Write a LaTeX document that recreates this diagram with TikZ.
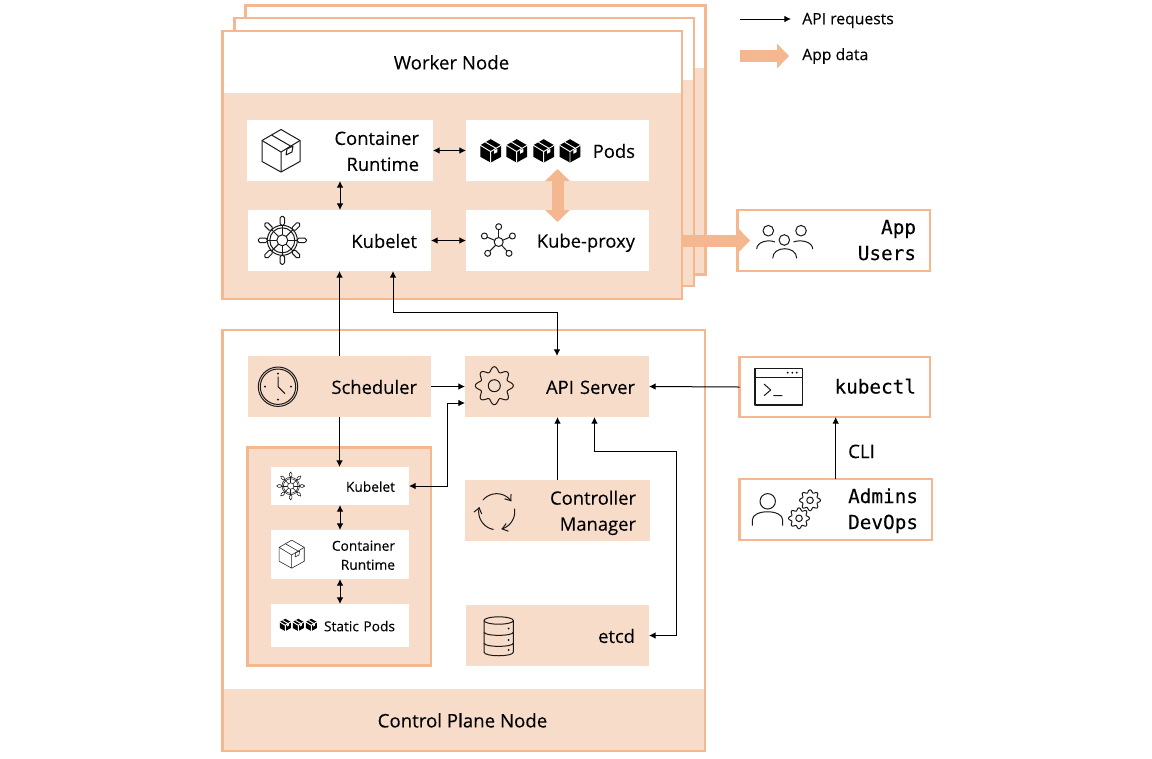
\documentclass[tikz,border=0pt]{standalone}
\usepackage{fontspec}
\setmainfont{Open Sans}[FakeBold=0.15]
\newfontfamily\monof{DejaVu Sans Mono}[FakeBold=0.1]
\usetikzlibrary{arrows.meta}
\definecolor{peach}{HTML}{F8DCCA}
\definecolor{edge}{HTML}{F4B78F}
\tikzset{
  x=.75pt,y=-.75pt,
  size/.style 2 args={minimum width=#1*.75pt,minimum height=#2*.75pt,text width=#1*.75pt-21pt},
  pad/.style 2 args={execute at begin node={\rule{0pt}{#1}},execute at end node={\rule[-#2]{0pt}{#2}}},
  base/.style={rectangle,inner xsep=10.5pt,inner ysep=0pt,outer sep=0pt,align=right,font=\fontsize{13.8}{19.5}\selectfont,text=black},
  whitebox/.style={base,fill=white,pad={14pt}{2.9pt}},
  peachbox/.style={base,fill=peach,pad={14pt}{2.9pt}},
  smallbox/.style={base,fill=white,font=\fontsize{10.3}{14.25}\selectfont,pad={11pt}{2.4pt}},
  framebox/.style={base,fill=white,draw=edge,line width=2pt,font=\monof\fontsize{14.5}{19.5}\selectfont,pad={13pt}{3.25pt}},
  bigframe/.style={rectangle,outer sep=0pt,inner sep=0pt,draw=edge,line width=2pt},
  title/.style={font=\fontsize{14}{19.5}\selectfont,text=black,inner sep=0pt},
  legend/.style={title,anchor=west,font=\fontsize{11.8}{14}\selectfont},
  one/.style={line width=.75pt,draw=black,-{Latex[length=5pt,width=5pt]}},
  two/.style={line width=.75pt,draw=black,{Latex[length=5pt,width=5pt]}-{Latex[length=5pt,width=5pt]}},
  bigone/.style={line width=9pt,draw=edge,-{Triangle[length=9pt,width=18pt]}},
  bigtwo/.style={line width=9pt,draw=edge,{Triangle[length=9pt,width=18pt]}-{Triangle[length=9pt,width=18pt]}},
  icon/.style={line width=.75pt,draw=black!90,line join=round},
  thinicon/.style={line width=.4pt,draw=black!90,line join=round},
  boxicon/.pic={
    \draw[pic actions] (0,-21.5)--(-19,-10.5)--(-19,10.5)--(0,21)--(19,10.5)--(19,-10.5)--cycle;
    \draw[pic actions] (-19,-10.5)--(0,1)--(19,-10.5) (0,1)--(0,21) (-9.5,-16)--(9.5,-5);
    \draw[pic actions] (6,-2)--(12,-5)--(11,1)--(5,4)--cycle;
  },
  podicon/.pic={
    \fill[black] (0,-21.5)--(-19,-10.5)--(-19,10.5)--(0,21)--(19,10.5)--(19,-10.5)--cycle;
    \draw[white,line width=.7pt] (-19,-10.5)--(0,1)--(19,-10.5) (0,1)--(0,21) (-9.5,-16)--(9.5,-5);
    \fill[white] (6,-1)--(12,-4)--(12,2)--(6,5)--cycle;
  },
  helmicon/.pic={
    \foreach \a in {0,45,...,315}{
      \draw[pic actions,rotate=\a] (0,0)--(15,0);
      \draw[pic actions,rotate=\a,fill=white,rounded corners=1.2pt] (15,-2.2) rectangle (24,2.2);
    }
    \draw[pic actions] (0,0) circle (15) (0,0) circle (12.5);
    \draw[pic actions,fill=white] (0,0) circle (5.5);
  },
  gearicon/.pic={
    \draw[pic actions] plot[domain=0:360,samples=121,smooth] ({(16.5+2.5*cos(8*\x))*cos(\x)},{(16.5+2.5*cos(8*\x))*sin(\x)}) -- cycle;
    \draw[pic actions] (0,0) circle (6);
  }
}
\begin{document}
\begin{tikzpicture}
\useasboundingbox (0,0) rectangle (1152,758);
% guides
\coordinate (gx393) at (393,0);
\coordinate (gy312) at (0,312);
\coordinate (gx447) at (447.5,0);
\coordinate (gy403) at (0,403);
\coordinate (gx594) at (594.5,0);
\coordinate (gy451) at (0,451);
\coordinate (gx676) at (676,0);
\coordinate (gx836) at (835.7,0);
\coordinate (legA) at (740,19);
\coordinate (legB) at (791,19);
\coordinate (legC) at (740,56);
\coordinate (legD) at (789,56);
% stacked worker frames
\node[bigframe,fill=white,minimum width=459.5*.75pt,minimum height=268.5*.75pt] (back) at (475.5,140) {};
\fill[peach] (247,68) rectangle (704,273);
\node[bigframe,fill=white,minimum width=459.5*.75pt,minimum height=268*.75pt] (mid) at (464.25,152) {};
\fill[peach] (236,80) rectangle (693,285);
\node[bigframe,fill=white,minimum width=459.5*.75pt,minimum height=267.5*.75pt] (worker) at (452.25,164.75) {};
\fill[peach] (223.5,93) rectangle (681,297.5);
\node[title] (wtitle) at (451.5,62.4) {Worker Node};
\node[whitebox,size={186}{61}] (cr) at (340,150.5) {Container\\Runtime};
\node[whitebox,size={183}{61}] (pods) at (557.5,150.5) {Pods};
\node[whitebox,size={183}{61}] (wkub) at (339.5,240.5) {Kubelet};
\node[whitebox,size={183}{61}] (proxy) at (557.5,240.5) {Kube-proxy};
% control plane
\node[bigframe,fill=white,minimum width=482.5*.75pt,minimum height=421*.75pt] (cp) at (463.75,540.5) {};
\fill[peach] (223.5,689) rectangle (704,750);
\node[title] (cptitle) at (462.5,720.4) {Control Plane Node};
\node[peachbox,size={183}{61}] (sched) at (339.5,386.5) {Scheduler};
\node[peachbox,size={184}{61}] (api) at (557,386.5) {API Server};
\node[bigframe,fill=peach,minimum width=183.5*.75pt,minimum height=218*.75pt] (static) at (339.25,556.5) {};
\node[smallbox,size={138}{38}] (skub) at (340,486) {Kubelet};
\node[smallbox,size={138}{49}] (scr) at (340,554.5) {Container\\Runtime};
\node[smallbox,size={138}{43}] (spods) at (340,625.5) {Static Pods};
\node[peachbox,size={185}{61}] (cm) at (557.5,510.5) {Controller\\Manager};
\node[peachbox,size={183}{61}] (etcd) at (557.5,635.5) {etcd};
% outside
\node[framebox,size={192.5}{61}] (users) at (833.75,240.5) {App\\Users};
\node[framebox,size={190.5}{60}] (kubectl) at (834.75,387) {kubectl};
\node[framebox,size={192.5}{61},inner xsep=10.5pt] (admins) at (835.75,509.5) {Admins\\DevOps};
\node[title] (cli) at (861.5,451.4) {CLI};
% connectors
\draw[two] (cr.east) -- (pods.west);
\draw[two] (cr.south) -- (cr.south |- wkub.north);
\draw[two] (wkub.east) -- (proxy.west);
\draw[bigtwo,shorten <=-9pt,shorten >=-9pt] (pods.south) -- (proxy.north);
\draw[bigone,shorten >=-9.4pt] (worker.east |- users.west) -- (users.west);
\draw[one] (sched.north) -- (sched.north |- wkub.south);
\draw[two] (gx393 |- wkub.south) -- (gx393 |- gy312) -- (api.north |- gy312) -- (api.north);
\draw[one] (sched.east) -- (api.west);
\draw[two] (skub.east) -- (gx447 |- skub.east) -- (gx447 |- gy403) -- (api.west |- gy403);
\draw[one] (sched.south) -- (sched.south |- skub.north);
\draw[two] (skub.south) -- (scr.north);
\draw[two] (scr.south) -- (spods.north);
\draw[one] (cm.north) -- (cm.north |- api.south);
\draw[two] (etcd.east) -- (gx676 |- etcd.east) -- (gx676 |- gy451) -- (gx594 |- gy451) -- (gx594 |- api.south);
\draw[one] (kubectl.west) -- (api.east);
\draw[one] (gx836 |- admins.north) -- (gx836 |- kubectl.south);
% legend
\draw[one] (legA) -- (legB);
\node[legend] (legapi) at (802,20.5) {API requests};
\draw[bigone] (legC) -- (legD);
\node[legend] (legdata) at (802,56) {App data};
% icons
\pic[icon] at (281,151) {boxicon};
\pic[thinicon,scale=.66] at (291.7,554.3) {boxicon};
\foreach \x in {490.7,516.7,543.7,570}{\pic[scale=.55] at (\x,151) {podicon};}
\foreach \x in {285.3,298.3,311.3}{\pic[scale=.29] at (\x,625) {podicon};}
\pic[icon] at (282.3,240.3) {helmicon};
\pic[thinicon,scale=.58] at (290.7,486) {helmicon};
\pic[icon] at (494.3,385.7) {gearicon};
\pic[icon,scale=.55] at (810,500.3) {gearicon};
\pic[icon,scale=.55] at (799,518.3) {gearicon};
% hub
\begin{scope}[shift={(498.7,242)}]
\foreach \p in {(0,-15.3),(-14.3,-6),(13.7,-6),(-11,11.3),(10.3,11.3)}{
  \draw[icon] (0,0) -- \p;
  \draw[icon,fill=white] \p circle (3);
}
\draw[icon,fill=white] (0,0) circle (4.5);
\end{scope}
% clock
\begin{scope}[shift={(278,386.7)}]
\draw[icon] (0,0) circle (19.7) (0,0) circle (17.7);
\draw[icon] (0,-10) -- (0,0) -- (7,7);
\foreach \p in {(0,-13),(0,13),(-13,0),(13,0)}{\fill[black] \p circle (1);}
\end{scope}
% refresh
\begin{scope}[shift={(496.7,511.7)}]
\draw[icon,-{Straight Barb[length=4pt,width=6pt]}] plot[domain=-140:-35,samples=25,smooth] ({18*cos(\x)},{18*sin(\x)});
\draw[icon,-{Straight Barb[length=4pt,width=6pt]}] plot[domain=-10:75,samples=25,smooth] ({18*cos(\x)},{18*sin(\x)});
\draw[icon,-{Straight Barb[length=4pt,width=6pt]}] plot[domain=100:195,samples=25,smooth] ({18*cos(\x)},{18*sin(\x)});
\end{scope}
% database
\begin{scope}[shift={(498.7,0)}]
\draw[icon] (-14.7,620.5) -- (-14.7,652) .. controls (-14.7,657) and (14.7,657) .. (14.7,652) -- (14.7,620.5);
\draw[icon] (0,620.5) ellipse (14.7 and 3.7);
\draw[icon] (-14.7,632) .. controls (-14.7,636.5) and (14.7,636.5) .. (14.7,632);
\draw[icon] (-14.7,643) .. controls (-14.7,647.5) and (14.7,647.5) .. (14.7,643);
\foreach \y in {628.5,640,650}{\fill[black] (10,\y) circle (1);}
\end{scope}
% app users
\draw[icon] (768.3,230.7) circle (5.3) (801,230.7) circle (5.3) (784.3,240) circle (5.3);
\draw[icon] (756.7,249) .. controls (756.7,242) and (768,239) .. (775,242);
\draw[icon] (812.7,249) .. controls (812.7,242) and (801,239) .. (793.5,242);
\draw[icon] (772.7,258.3) .. controls (772.7,245.5) and (796.7,245.5) .. (796.7,258.3);
% admin person
\draw[icon] (767.7,501.3) circle (7.7);
\draw[icon] (752.3,525.7) -- (752.3,520) .. controls (752.3,509) and (782.7,509) .. (782.7,520) -- (782.7,525.7);
% terminal
\draw[icon,line width=1pt] (755,368.3) rectangle (802.7,405) (755,377.3) -- (802.7,377.3);
\foreach \x in {787.7,792.3,796.7}{\fill[black] (\x,372.7) circle (1);}
\draw[icon] (764,384) -- (770.7,390) -- (764,395.7) (773.3,395.5) -- (782.3,395.5);
\end{tikzpicture}
\end{document}
